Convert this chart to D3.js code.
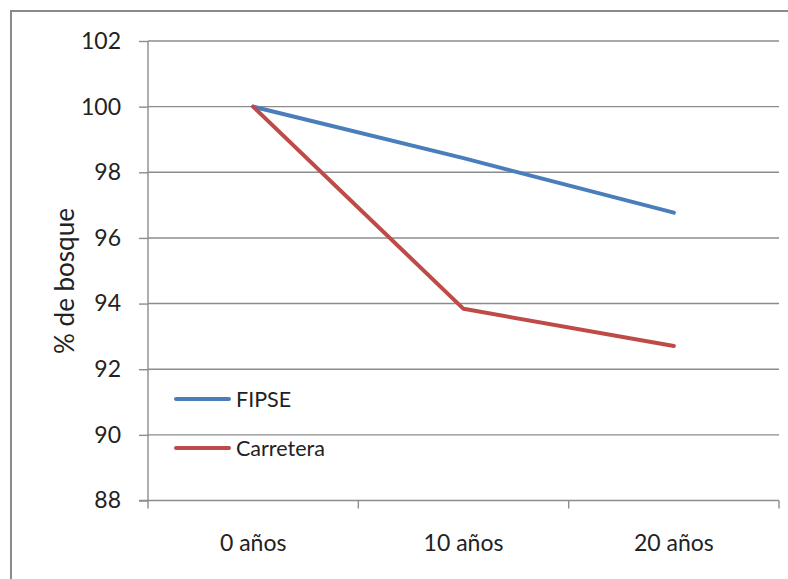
<!DOCTYPE html>
<html>
<head>
<meta charset="utf-8">
<script src="https://cdn.jsdelivr.net/npm/d3@7"></script>
<style>
  html, body { margin: 0; padding: 0; background: #fff; }
  svg { display: block; }
</style>
</head>
<body>
<svg id="chart" width="788" height="579"></svg>
<script>
const categories = ["0 años", "10 años", "20 años"];
const fipse = [100, 98.43, 96.77];
const carretera = [100, 93.84, 92.71];
const yTicks = [88, 90, 92, 94, 96, 98, 100, 102];
const seriesNames = ["FIPSE", "Carretera"];
const seriesColors = ["#4A7EBB", "#BE4B48"];

const svg = d3.select("#chart");
const font = "Lato, 'Open Sans', sans-serif";
const gridColor = "#8c8c8c";

// outer frame (top and left visible)
svg.append("path")
  .attr("d", "M11,579 L11,11 L788,11")
  .attr("fill", "none").attr("stroke", "#8a8a8a").attr("stroke-width", 2);

const x = d3.scaleBand().domain(categories).range([148, 779]).paddingInner(0).paddingOuter(0);
const y = d3.scaleLinear().domain([88, 102]).range([500.5, 41]);

// horizontal gridlines
svg.append("g").selectAll("line").data(yTicks.filter(t => t !== 88)).join("line")
  .attr("x1", 148).attr("x2", 779)
  .attr("y1", d => y(d)).attr("y2", d => y(d))
  .attr("stroke", gridColor).attr("stroke-width", 1.4);

// y axis
const yAxis = d3.axisLeft(y).tickValues(yTicks).tickSize(9).tickPadding(18).tickFormat(d3.format("d"));
const gy = svg.append("g").attr("transform", "translate(148,0)").call(yAxis);
gy.select(".domain").attr("stroke", gridColor).attr("stroke-width", 1.4).attr("d", `M0,${y(102)}V${y(88)}`);
gy.selectAll(".tick line").attr("stroke", gridColor).attr("stroke-width", 1.4);
gy.selectAll(".tick text").attr("font-family", font).attr("font-size", 23).attr("fill", "#222");

// x axis
const gx = svg.append("g").attr("transform", `translate(0,${y(88)})`);
gx.append("line").attr("x1", 139).attr("x2", 779).attr("y1", 0).attr("y2", 0)
  .attr("stroke", gridColor).attr("stroke-width", 1.4);
const bounds = categories.map(c => x(c)).concat([x(categories[categories.length - 1]) + x.bandwidth()]);
gx.selectAll("line.tk").data(bounds).join("line").attr("class", "tk")
  .attr("x1", d => d).attr("x2", d => d).attr("y1", 0).attr("y2", 8)
  .attr("stroke", gridColor).attr("stroke-width", 1.4);
gx.selectAll("text").data(categories).join("text")
  .attr("x", d => x(d) + x.bandwidth() / 2).attr("y", 50)
  .attr("text-anchor", "middle")
  .attr("font-family", font).attr("font-size", 23).attr("fill", "#222")
  .text(d => d);

// y title
svg.append("text")
  .attr("transform", "translate(74,281) rotate(-90)")
  .attr("text-anchor", "middle")
  .attr("font-family", font).attr("font-size", 26).attr("fill", "#222")
  .text("% de bosque");

// lines
const line = d3.line().x((d, i) => x(categories[i]) + x.bandwidth() / 2).y(d => y(d));
[fipse, carretera].forEach((s, k) => {
  svg.append("path").datum(s)
    .attr("d", line)
    .attr("fill", "none")
    .attr("stroke", seriesColors[k])
    .attr("stroke-width", 4)
    .attr("stroke-linejoin", "round")
    .attr("stroke-linecap", "round");
});

// legend
const lg = svg.append("g");
seriesNames.forEach((n, k) => {
  const yy = 399 + k * 49;
  lg.append("line").attr("x1", 176).attr("x2", 229).attr("y1", yy).attr("y2", yy)
    .attr("stroke", seriesColors[k]).attr("stroke-width", 4).attr("stroke-linecap", "round");
  lg.append("text").attr("x", 236).attr("y", yy + 8)
    .attr("font-family", font).attr("font-size", 21.5).attr("fill", "#222")
    .text(n);
});
</script>
</body>
</html>
